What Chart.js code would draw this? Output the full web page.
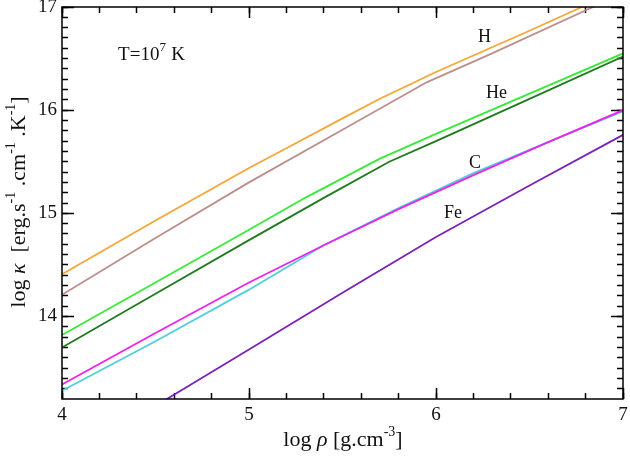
<!DOCTYPE html>
<html><head><meta charset="utf-8">
<script src="https://cdn.jsdelivr.net/npm/chart.js@4.4.1/dist/chart.umd.min.js"></script>
<style>html,body{margin:0;padding:0;background:#fff;}#wrap{width:630px;height:456px;}</style>
</head><body><div id="wrap"><canvas id="c" width="630" height="456"></canvas></div>
<script>
// Data (log rho, log kappa)
const hRho  = [4, 4.5, 5, 5.2, 5.5, 5.7, 6, 6.5, 6.78, 7];
const hKap  = [14.41, 14.93, 15.44, 15.63, 15.92, 16.11, 16.37, 16.77, 17.0, 17.17];
const brRho = [4, 4.5, 5, 5.5, 5.95, 6.3, 6.84, 7];
const brKap = [14.21, 14.76, 15.30, 15.81, 16.27, 16.55, 17.0, 17.13];
const gRho  = [4, 4.5, 5, 5.3, 5.7, 6, 6.5, 7];
const gKap  = [13.82, 14.33, 14.84, 15.15, 15.53, 15.77, 16.16, 16.55];
const dgRho = [4, 4.5, 5, 5.4, 5.75, 6, 6.5, 7];
const dgKap = [13.70, 14.22, 14.74, 15.15, 15.50, 15.70, 16.11, 16.52];
const mRho  = [4, 4.5, 5, 5.4, 5.8, 6.2, 6.6, 7];
const mKap  = [13.34, 13.84, 14.33, 14.69, 15.04, 15.37, 15.69, 16.0];
const cRho  = [4, 4.5, 5, 5.4, 5.8, 6.2, 6.6, 7];
const cKap  = [13.28, 13.76, 14.26, 14.69, 15.05, 15.39, 15.69, 15.99];
const pRho  = [4, 4.57, 5, 5.5, 6, 6.5, 7];
const pKap  = [12.58, 13.21, 13.68, 14.23, 14.77, 15.27, 15.76];

const xTicks = [4, 5, 6, 7];
const yTicks = [14, 15, 16, 17];
const xMinorTicks = [];
for (let k = 20; k <= 35; k++) xMinorTicks.push(k / 5);
const yMinorTicks = [];
for (let k = 133; k <= 170; k++) yMinorTicks.push(k / 10);

const labelText = ["H", "He", "C", "Fe"];
const labelRho  = [6.225, 6.267, 6.176, 6.043];
const labelKap  = [16.66, 16.12, 15.44, 14.95];

const SERIF = '"Liberation Serif", "DejaVu Serif", serif';
const X_MIN = 4, X_MAX = 7, Y_MIN = 13.2, Y_MAX = 17;

function pts(xs, ys){ return xs.map((x,i)=>({x:x, y:ys[i]})); }
function ds(xs, ys, color, order){
  return {data: pts(xs, ys), borderColor: color, backgroundColor: color, borderWidth: 1.8,
          pointRadius: 0, tension: 0, fill: false, order: order};
}

function drawRich(ctx, pieces, x, y, size){
  let w = 0;
  const fonts = pieces.map(p => p[1]==='s' ? (Math.round(size*0.65))+'px '+SERIF
                                 : (p[1]==='i' ? 'italic ' : '') + size+'px '+SERIF);
  pieces.forEach((p,i)=>{ ctx.font = fonts[i]; w += ctx.measureText(p[0]).width; });
  let cx = x - w/2;
  pieces.forEach((p,i)=>{
    ctx.font = fonts[i];
    ctx.fillText(p[0], cx, p[1]==='s' ? y - size*0.45 : y);
    cx += ctx.measureText(p[0]).width;
  });
}

const textPlugin = {
  id: 'textPlugin',
  afterDraw(chart){
    const ctx = chart.ctx, a = chart.chartArea;
    const xs = chart.scales.x, ys = chart.scales.y;
    ctx.save();
    ctx.strokeStyle = '#000';
    ctx.lineWidth = 1.5;
    ctx.strokeRect(a.left, a.top, a.right - a.left, a.bottom - a.top);
    ctx.fillStyle = '#111';
    ctx.textBaseline = 'alphabetic';
    ctx.textAlign = 'left';
    ctx.font = '18px ' + SERIF;
    labelText.forEach((t,i)=>{
      ctx.fillText(t, xs.getPixelForValue(labelRho[i]), ys.getPixelForValue(labelKap[i]));
    });
    const tx = xs.getPixelForValue(4.30), ty = ys.getPixelForValue(16.49);
    ctx.font = '19px ' + SERIF;
    ctx.fillText('T=10', tx, ty);
    const w1 = ctx.measureText('T=10').width;
    ctx.font = '13px ' + SERIF;
    ctx.fillText('7', tx + w1, ty - 9);
    const w2 = ctx.measureText('7 ').width;
    ctx.font = '19px ' + SERIF;
    ctx.fillText('K', tx + w1 + w2 + 2, ty);
    drawRich(ctx, [['log ','n'],['\u03C1','i'],[' [g.cm','n'],['-3','s'],[']','n']], 343, 446, 22);
    ctx.translate(25, 202);
    ctx.rotate(-Math.PI/2);
    drawRich(ctx, [['log ','n'],['\u03BA','i'],['  [erg.s','n'],['-1','s'],[' .cm','n'],['-1','s'],[' .K','n'],['-1','s'],[']','n']], 0, 0, 22);
    ctx.restore();
  }
};

// Tick-mark-only axis (inward ticks drawn by Chart.js grid with negative tickLength)
function tickAxis(horizontal, position, weight, tickVals, len, labelled){
  const ax = {
    type: 'linear', position: position, weight: weight,
    min: horizontal ? X_MIN : Y_MIN, max: horizontal ? X_MAX : Y_MAX,
    afterBuildTicks: s => { s.ticks = tickVals.map(v => ({value: v})); },
    grid: { display: true, drawOnChartArea: false, drawTicks: true,
            tickLength: -len, tickColor: '#000', tickWidth: 1.5 },
    border: { display: false },
    ticks: labelled
      ? { color: '#111', padding: 5 + len, font: { family: SERIF, size: 19 }, maxRotation: 0,
          callback: v => String(v) }
      : { display: true, color: 'rgba(0,0,0,0)', font: { size: 1 }, callback: () => '' }
  };
  if (horizontal) {
    ax.afterFit = s => { s.height = labelled ? 57 : 0; s.paddingLeft = 0; s.paddingRight = 0; };
  } else {
    ax.afterFit = s => { s.width = labelled ? 62 : 0; s.paddingTop = 0; s.paddingBottom = 0; };
  }
  return ax;
}

new Chart(document.getElementById('c'), {
  type: 'line',
  data: { datasets: [
    ds(hRho, hKap, '#f5a636', 1),
    ds(brRho, brKap, '#bc8e8c', 2),
    ds(gRho, gKap, '#38ea38', 3),
    ds(dgRho, dgKap, '#1f7a1f', 4),
    ds(mRho, mKap, '#ee22ee', 5),
    ds(cRho, cKap, '#4fd0d8', 6),
    ds(pRho, pKap, '#7a22b8', 7)
  ]},
  options: {
    responsive: false, animation: false, devicePixelRatio: 1,
    layout: { padding: { left: 0, right: 7, top: 7, bottom: 0 } },
    plugins: { legend: { display: false }, tooltip: { enabled: false } },
    scales: {
      x:   tickAxis(true,  'bottom', 1, xTicks, 11, true),
      xm:  tickAxis(true,  'bottom', 0, xMinorTicks, 6, false),
      xt:  tickAxis(true,  'top',    0, xTicks, 11, false),
      xtm: tickAxis(true,  'top',    1, xMinorTicks, 6, false),
      y:   tickAxis(false, 'left',   1, yTicks, 12, true),
      ym:  tickAxis(false, 'left',   0, yMinorTicks, 6, false),
      yr:  tickAxis(false, 'right',  0, yTicks, 12, false),
      yrm: tickAxis(false, 'right',  1, yMinorTicks, 6, false)
    }
  },
  plugins: [textPlugin]
});
</script>
</body></html>
